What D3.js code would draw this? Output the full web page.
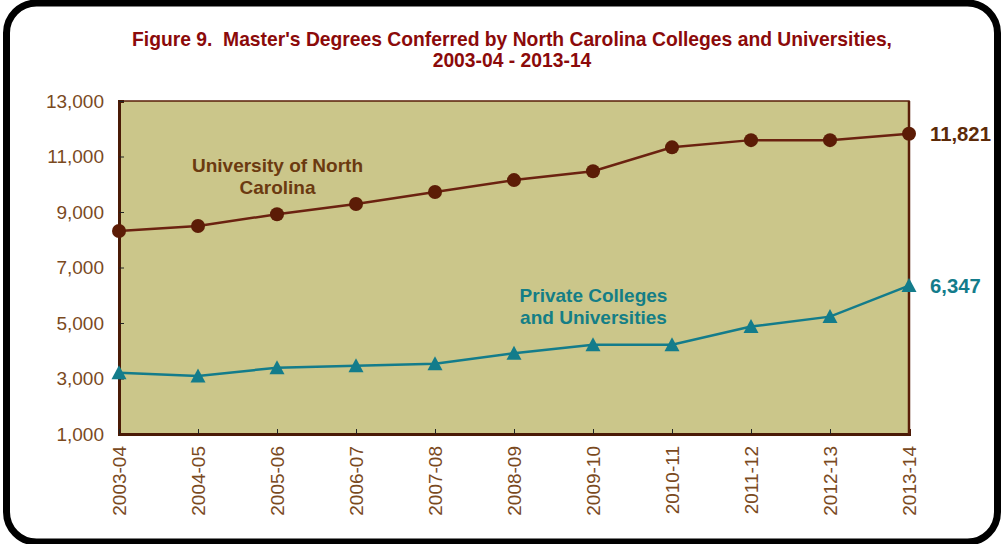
<!DOCTYPE html>
<html><head><meta charset="utf-8">
<script src="https://cdn.jsdelivr.net/npm/d3@7"></script>
<style>body{margin:0;background:#fff}svg{display:block}</style>
</head><body>
<script>
const years = ["2003-04","2004-05","2005-06","2006-07","2007-08","2008-09","2009-10","2010-11","2011-12","2012-13","2013-14"];
const unc = [8315, 8495, 8920, 9290, 9720, 10150, 10470, 11330, 11590, 11590, 11821];
const priv = [3210, 3090, 3390, 3460, 3530, 3910, 4220, 4215, 4870, 5230, 6347];
const yTicks = [1000, 3000, 5000, 7000, 9000, 11000, 13000];

const W = 1003, H = 544;
const m = {left: 119, right: 909, top: 101, bottom: 434};
const ff = "Liberation Sans, Arial, sans-serif";
const svg = d3.select("body").append("svg").attr("width", W).attr("height", H);

svg.append("rect").attr("x", 6.5).attr("y", 3).attr("width", 991).attr("height", 539)
  .attr("rx", 30).attr("fill", "#fff").attr("stroke", "#000").attr("stroke-width", 7);

const x = d3.scalePoint().domain(years).range([m.left, m.right]);
const y = d3.scaleLinear().domain([1000, 13000]).range([m.bottom, m.top]);

svg.append("rect").attr("x", m.left).attr("y", m.top).attr("width", m.right - m.left).attr("height", m.bottom - m.top)
  .attr("fill", "#CBC68A").attr("stroke", "#5a1e08").attr("stroke-width", 1.5);

// axes
const yAxis = svg.append("g").attr("transform", `translate(${m.left},0)`)
  .call(d3.axisLeft(y).tickValues(yTicks).tickFormat(d3.format(",")).tickSize(-5).tickPadding(15));
yAxis.select(".domain").attr("stroke", "#4a1a06").attr("stroke-width", 3);
yAxis.selectAll(".tick line").attr("stroke", "#222");
yAxis.selectAll("text").attr("font-family", ff).attr("font-size", 19).attr("fill", "#7A4A1E");

const xAxis = svg.append("g").attr("transform", `translate(0,${m.bottom})`)
  .call(d3.axisBottom(x).tickSize(-5).tickPadding(0));
xAxis.select(".domain").attr("stroke", "#4a1a06").attr("stroke-width", 3);
xAxis.selectAll(".tick line").attr("stroke", "#222");
xAxis.selectAll("text").attr("font-family", ff).attr("font-size", 19).attr("fill", "#7A4A1E")
  .attr("transform", "rotate(-90)").attr("text-anchor", "end").attr("dy", "0.35em").attr("x", -12).attr("y", 0);

// right border
svg.append("line").attr("x1", m.right).attr("x2", m.right).attr("y1", m.top).attr("y2", m.bottom)
  .attr("stroke", "#5a1e08").attr("stroke-width", 2.5);

// lines
const line = d3.line().x((d, i) => x(years[i])).y(d => y(d));
svg.append("path").datum(unc).attr("d", line).attr("fill", "none").attr("stroke", "#6B2210").attr("stroke-width", 2.5);
svg.append("path").datum(priv).attr("d", line).attr("fill", "none").attr("stroke", "#137C8B").attr("stroke-width", 2.5);

svg.selectAll("circle.unc").data(unc).enter().append("circle")
  .attr("cx", (d, i) => x(years[i])).attr("cy", d => y(d)).attr("r", 7).attr("fill", "#5C1C06");

svg.selectAll("path.priv").data(priv).enter().append("path")
  .attr("d", "M0,-7.5L7.5,6.5L-7.5,6.5Z").attr("transform", (d, i) => `translate(${x(years[i])},${y(d)})`).attr("fill", "#137C8B");

// title
svg.append("text").attr("x", 512).attr("y", 46).attr("text-anchor", "middle").attr("font-family", ff)
  .attr("font-weight", "bold").attr("font-size", 19.3).attr("fill", "#8B0A0A").attr("xml:space", "preserve")
  .text("Figure 9.  Master's Degrees Conferred by North Carolina Colleges and Universities,");
svg.append("text").attr("x", 512).attr("y", 67).attr("text-anchor", "middle").attr("font-family", ff)
  .attr("font-weight", "bold").attr("font-size", 19.3).attr("fill", "#8B0A0A")
  .text("2003-04 - 2013-14");

// series labels
const lab = (lines, cx, y0, color) => {
  lines.forEach((t, i) => svg.append("text").attr("x", cx).attr("y", y0 + i * 21.5).attr("text-anchor", "middle")
    .attr("font-family", ff).attr("font-weight", "bold").attr("font-size", 19).attr("fill", color).text(t));
};
lab(["University of North", "Carolina"], 277.5, 172, "#6B3A10");
lab(["Private Colleges", "and Universities"], 593.5, 302, "#147E86");

// end labels
svg.append("text").attr("x", x(years[10]) + 21).attr("y", y(unc[10]) + 7.5).attr("font-family", ff).attr("font-weight", "bold")
  .attr("font-size", 20.3).attr("fill", "#5C2A08").text(d3.format(",")(unc[10]));
svg.append("text").attr("x", x(years[10]) + 21).attr("y", y(priv[10]) + 7.5).attr("font-family", ff).attr("font-weight", "bold")
  .attr("font-size", 20.3).attr("fill", "#137C8B").text(d3.format(",")(priv[10]));
</script>
</body></html>
